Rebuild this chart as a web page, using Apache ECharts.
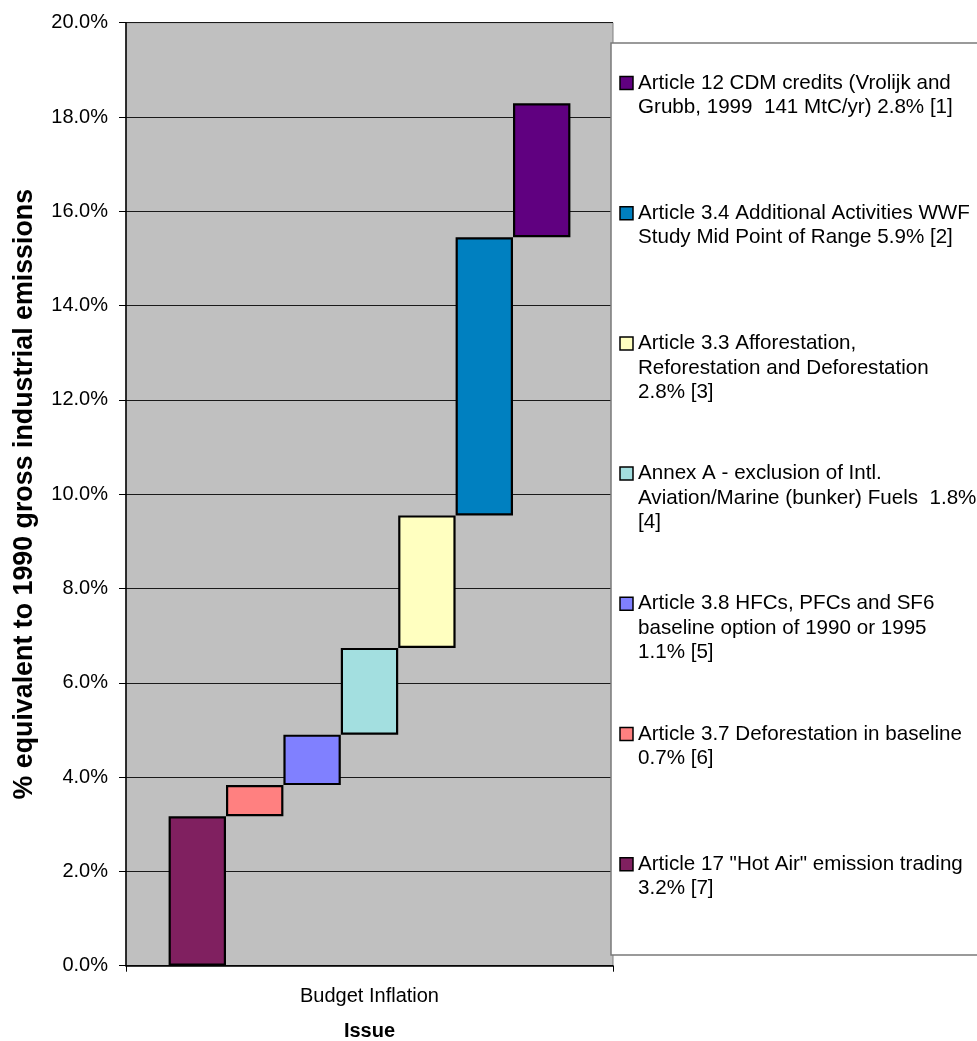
<!DOCTYPE html>
<html>
<head>
<meta charset="utf-8">
<script src="https://cdn.jsdelivr.net/npm/echarts@6/dist/echarts.min.js"></script>
<style>
  html, body { margin: 0; padding: 0; background: #ffffff; }
  #chart { width: 977px; height: 1041px; }
</style>
</head>
<body>
<div id="chart"></div>
<script>
// Budget inflation contributions, drawn bottom-up as a stepped waterfall
const categories = ['Budget Inflation'];

const itemNames = [
  'Article 17 "Hot Air" emission trading\n3.2% [7]',
  'Article 3.7 Deforestation in baseline\n0.7% [6]',
  'Article 3.8 HFCs, PFCs and SF6\nbaseline option of 1990 or 1995\n1.1% [5]',
  'Annex A - exclusion of Intl.\nAviation/Marine (bunker) Fuels  1.8%\n[4]',
  'Article 3.3 Afforestation,\nReforestation and Deforestation\n2.8% [3]',
  'Article 3.4 Additional Activities WWF\nStudy Mid Point of Range 5.9% [2]',
  'Article 12 CDM credits (Vrolijk and\nGrubb, 1999  141 MtC/yr) 2.8% [1]'
];

// percentage-point contribution of each item
const itemValues = [3.17, 0.66, 1.07, 1.84, 2.81, 5.90, 2.84];

const itemColors = ['#802060', '#FF8080', '#8080FF', '#A3DFE0', '#FFFFC0', '#0080C0', '#600080'];

const yTicks = { min: 0, max: 20, interval: 2 };

const FONT = "'Liberation Sans', Arial, sans-serif";

// running base for each floating bar
const bases = [];
let run = 0;
for (const v of itemValues) { bases.push(run); run += v; }

const series = [];
itemValues.forEach((v, i) => {
  series.push({
    type: 'bar',
    stack: 'step' + i,
    data: [bases[i]],
    barWidth: 57.4,
    barGap: '0%',
    silent: true,
    itemStyle: { color: 'transparent', borderWidth: 0 },
    emphasis: { disabled: true }
  });
  series.push({
    type: 'bar',
    name: itemNames[i],
    stack: 'step' + i,
    data: [v],
    barWidth: 57.4,
    barGap: '0%',
    itemStyle: { color: itemColors[i], borderColor: '#000000', borderWidth: 2.2 },
    emphasis: { disabled: true }
  });
});

// legend panel: newest item on top
const legendChildren = [];
legendChildren.push({
  type: 'rect',
  shape: { x: 611, y: 43, width: 400, height: 912 },
  style: { fill: '#ffffff', stroke: '#7a7a7a', lineWidth: 1.5 },
  z: 10
});
const order = itemNames.map((_, i) => i).reverse();
order.forEach((idx, row) => {
  const cy = 83 + row * 130.2;
  legendChildren.push({
    type: 'rect',
    shape: { x: 620, y: cy - 6.5, width: 13, height: 13 },
    style: { fill: itemColors[idx], stroke: '#000000', lineWidth: 1.5 },
    z: 11
  });
  legendChildren.push({
    type: 'text',
    x: 638,
    y: cy - 12.3,
    style: {
      text: itemNames[idx],
      font: '20.6px ' + FONT,
      fill: '#000000',
      lineHeight: 24.5,
      verticalAlign: 'top',
      align: 'left'
    },
    z: 11
  });
});

const chart = echarts.init(document.getElementById('chart'), null, { renderer: 'canvas' });
chart.setOption({
  animation: false,
  backgroundColor: '#ffffff',
  textStyle: { fontFamily: FONT },
  grid: {
    left: 126, right: 364, top: 22.7, bottom: 75.3,
    outerBoundsMode: 'none',
    containLabel: false,
    show: true,
    backgroundColor: '#C0C0C0',
    borderColor: '#808080',
    borderWidth: 1
  },
  xAxis: {
    type: 'category',
    data: categories,
    name: 'Issue',
    nameLocation: 'middle',
    nameGap: 56,
    nameTextStyle: { fontSize: 20, fontWeight: 'bold', color: '#000', fontFamily: FONT },
    axisLine: { lineStyle: { color: '#000000', width: 1.5 } },
    axisTick: { show: true, length: 6, lineStyle: { color: '#000' } },
    axisLabel: { fontSize: 20, color: '#000', margin: 21, fontFamily: FONT },
    splitLine: { show: false }
  },
  yAxis: {
    type: 'value',
    min: yTicks.min,
    max: yTicks.max,
    interval: yTicks.interval,
    name: '% equivalent to 1990 gross industrial emissions',
    nameLocation: 'middle',
    nameGap: 88,
    nameTextStyle: { fontSize: 26.8, fontWeight: 'bold', color: '#000', fontFamily: FONT },
    axisLine: { show: true, lineStyle: { color: '#000000', width: 1.5 } },
    axisTick: { show: true, length: 7, lineStyle: { color: '#000' } },
    axisLabel: {
      fontSize: 20, color: '#000', margin: 18, fontFamily: FONT,
      formatter: v => v.toFixed(1) + '%'
    },
    splitLine: { show: true, lineStyle: { color: '#1a1a1a', width: 1 } }
  },
  series: series,
  graphic: [{ type: 'group', children: legendChildren }]
});
</script>
</body>
</html>
